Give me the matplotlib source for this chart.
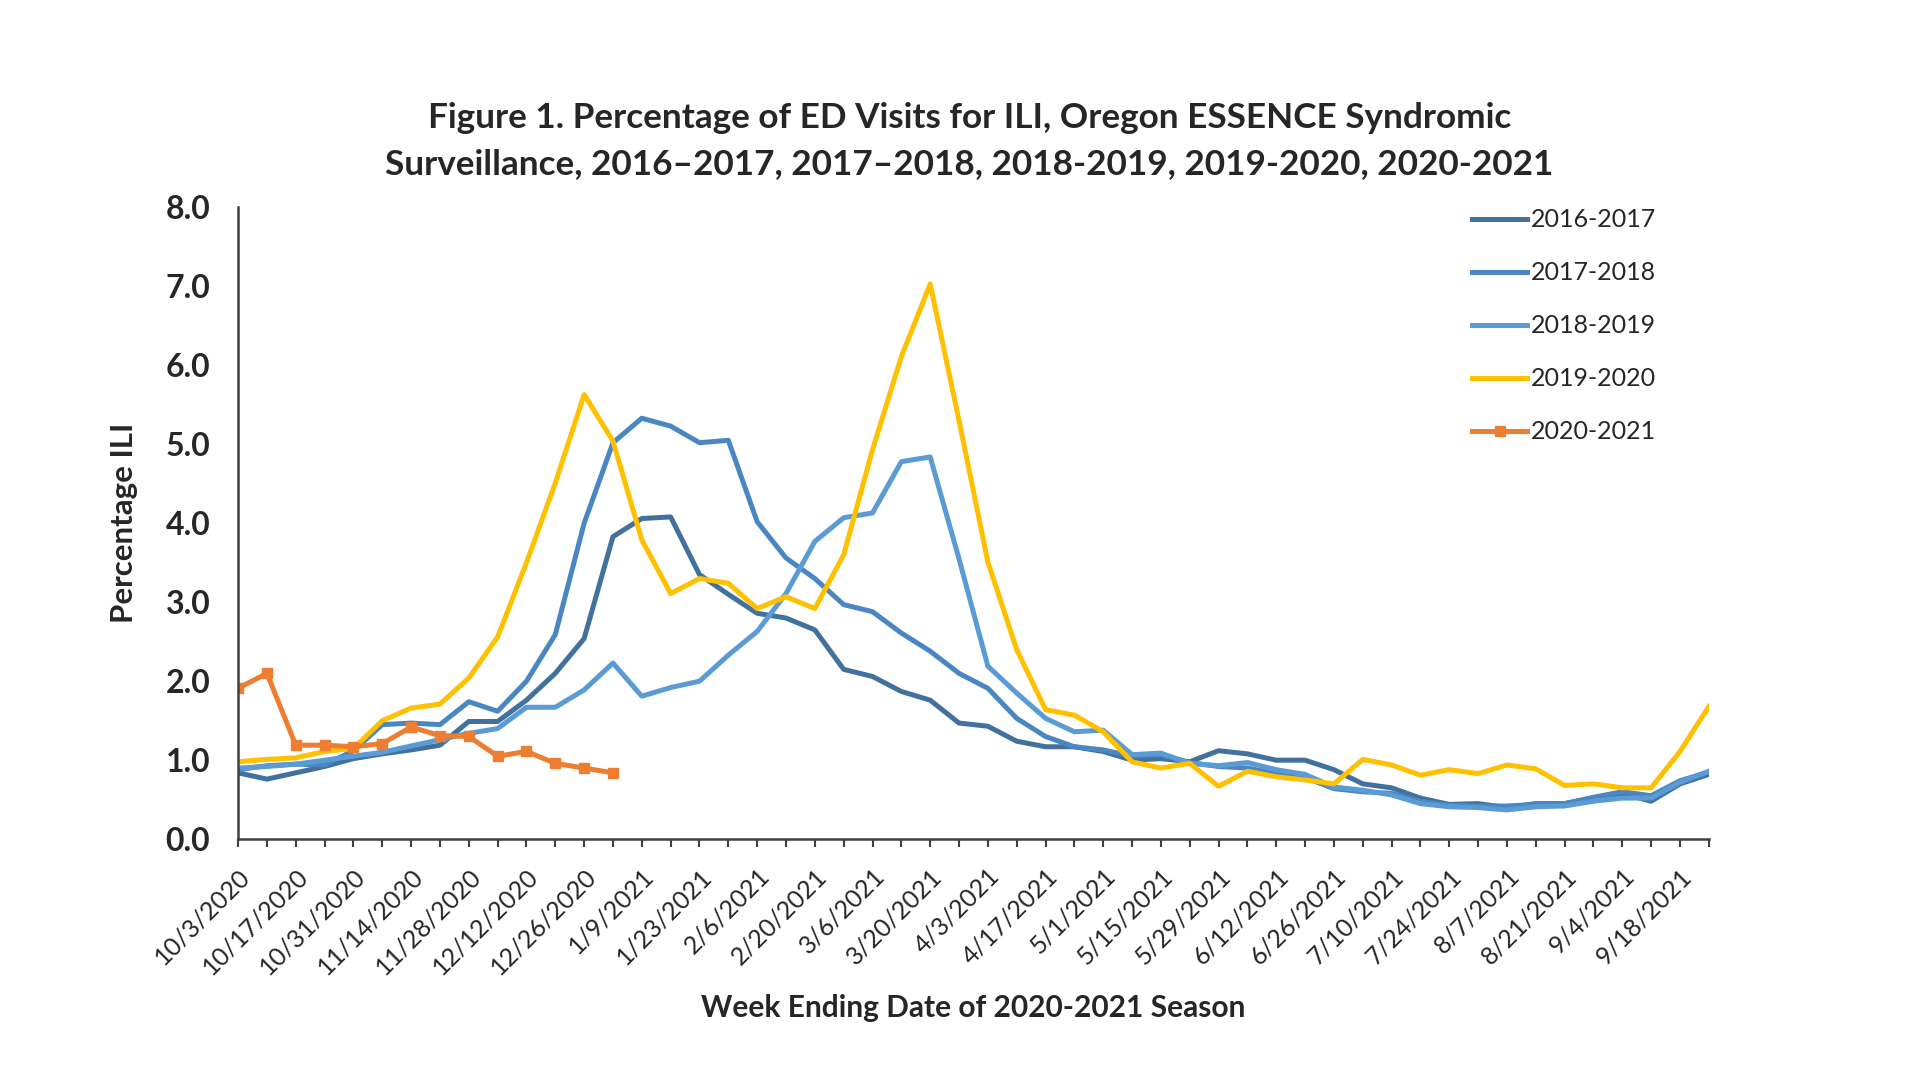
import matplotlib
matplotlib.use('Agg')
import matplotlib.pyplot as plt
import numpy as np

plt.rcParams['font.family'] = ['Lato', 'DejaVu Sans']

# week-ending tick labels (every other week is labelled)
tick_labels = ['10/3/2020', '10/17/2020', '10/31/2020', '11/14/2020', '11/28/2020',
               '12/12/2020', '12/26/2020', '1/9/2021', '1/23/2021', '2/6/2021',
               '2/20/2021', '3/6/2021', '3/20/2021', '4/3/2021', '4/17/2021',
               '5/1/2021', '5/15/2021', '5/29/2021', '6/12/2021', '6/26/2021',
               '7/10/2021', '7/24/2021', '8/7/2021', '8/21/2021', '9/4/2021',
               '9/18/2021']

s2016_2017 = [0.84, 0.76, 0.84, 0.92, 1.02, 1.08, 1.13, 1.19, 1.49, 1.49,
              1.76, 2.10, 2.54, 3.83, 4.06, 4.08, 3.35, 3.10, 2.86, 2.80,
              2.65, 2.15, 2.06, 1.87, 1.76, 1.47, 1.43, 1.24, 1.17, 1.17,
              1.11, 1.00, 1.02, 0.98, 1.12, 1.08, 1.00, 1.00, 0.88, 0.70,
              0.65, 0.52, 0.44, 0.45, 0.40, 0.45, 0.45, 0.52, 0.58, 0.48,
              0.70, 0.82]

s2017_2018 = [0.88, 0.93, 0.95, 0.94, 1.12, 1.45, 1.47, 1.45, 1.74, 1.62,
              2.00, 2.59, 4.00, 5.02, 5.33, 5.23, 5.02, 5.05, 4.02, 3.56,
              3.30, 2.97, 2.88, 2.61, 2.38, 2.10, 1.91, 1.53, 1.30, 1.17,
              1.13, 1.05, 1.07, 0.97, 0.92, 0.90, 0.83, 0.78, 0.64, 0.60,
              0.58, 0.48, 0.43, 0.42, 0.42, 0.44, 0.45, 0.53, 0.60, 0.55,
              0.74, 0.85]

s2018_2019 = [0.90, 0.92, 0.95, 1.00, 1.05, 1.10, 1.18, 1.26, 1.34, 1.40,
              1.67, 1.67, 1.89, 2.23, 1.81, 1.92, 2.00, 2.33, 2.63, 3.11,
              3.77, 4.07, 4.13, 4.78, 4.84, 3.55, 2.19, 1.85, 1.53, 1.36,
              1.38, 1.07, 1.09, 0.96, 0.93, 0.97, 0.88, 0.82, 0.66, 0.62,
              0.56, 0.45, 0.41, 0.40, 0.37, 0.41, 0.42, 0.48, 0.52, 0.52,
              0.72, 0.86]

s2019_2020 = [0.98, 1.01, 1.03, 1.11, 1.15, 1.50, 1.66, 1.71, 2.04, 2.56,
              3.50, 4.51, 5.63, 5.04, 3.79, 3.11, 3.30, 3.24, 2.92, 3.07,
              2.92, 3.60, 4.93, 6.11, 7.03, 5.30, 3.51, 2.40, 1.64, 1.57,
              1.36, 0.98, 0.90, 0.96, 0.67, 0.86, 0.79, 0.75, 0.70, 1.01,
              0.94, 0.81, 0.88, 0.83, 0.94, 0.89, 0.68, 0.70, 0.65, 0.65,
              1.11, 1.68]

s2020_2021 = [1.91, 2.10, 1.19, 1.19, 1.17, 1.21, 1.42, 1.31, 1.30, 1.05,
              1.11, 0.96, 0.90, 0.84]

weeks = np.arange(len(s2016_2017))

fig = plt.figure(figsize=(19.2, 10.8), dpi=100)
ax = fig.add_axes([0.124, 0.223, 0.766, 0.585])

lw = 3.6
ax.plot(weeks, s2016_2017, color='#41719C', lw=lw, label='2016-2017')
ax.plot(weeks, s2017_2018, color='#4A87C2', lw=lw, label='2017-2018')
ax.plot(weeks, s2018_2019, color='#5B9BD5', lw=lw, label='2018-2019')
ax.plot(weeks, s2019_2020, color='#FFC000', lw=lw, label='2019-2020')
ax.plot(weeks[:len(s2020_2021)], s2020_2021, color='#ED7D31', lw=lw,
        marker='s', markersize=7.5, label='2020-2021')

ax.set_xlim(0, len(weeks) - 1)
ax.set_ylim(0, 8)
ax.set_yticks(np.arange(0, 9, 1))
ax.set_yticklabels(['%.1f' % v for v in np.arange(0, 9, 1)],
                   fontsize=23, fontweight='bold', color='#262626')
ax.tick_params(axis='y', length=0, pad=20)

labels = []
for i in weeks:
    labels.append(tick_labels[i // 2] if i % 2 == 0 else '')
ax.set_xticks(weeks)
ax.set_xticklabels(labels, rotation=45, ha='right', rotation_mode='anchor',
                   fontsize=18, color='#262626')
ax.tick_params(axis='x', length=6, width=1.5, color='#404040', direction='out', pad=12)

for side in ['top', 'right']:
    ax.spines[side].set_visible(False)
for side in ['left', 'bottom']:
    ax.spines[side].set_linewidth(1.8)
    ax.spines[side].set_color('#404040')

ax.set_ylabel('Percentage ILI', fontsize=22.5, fontweight='bold', color='#262626', labelpad=20)
ax.set_xlabel('Week Ending Date of 2020-2021 Season', fontsize=21.5, fontweight='bold',
              color='#262626', labelpad=11)

fig.text(0.505, 0.891, 'Figure 1. Percentage of ED Visits for ILI, Oregon ESSENCE Syndromic',
         ha='center', va='center', fontsize=25.3, fontweight='bold', color='#262626')
fig.text(0.505, 0.848, 'Surveillance, 2016\u20132017, 2017\u20132018, 2018-2019, 2019-2020, 2020-2021',
         ha='center', va='center', fontsize=25.3, fontweight='bold', color='#262626')

leg = ax.legend(loc='upper left', bbox_to_anchor=(0.755, 0.828), bbox_transform=fig.transFigure,
                frameon=False, fontsize=18, handlelength=2.2, handletextpad=0.15,
                labelspacing=1.2)
for t in leg.get_texts():
    t.set_color('#262626')

plt.savefig('out.png', dpi=100)
